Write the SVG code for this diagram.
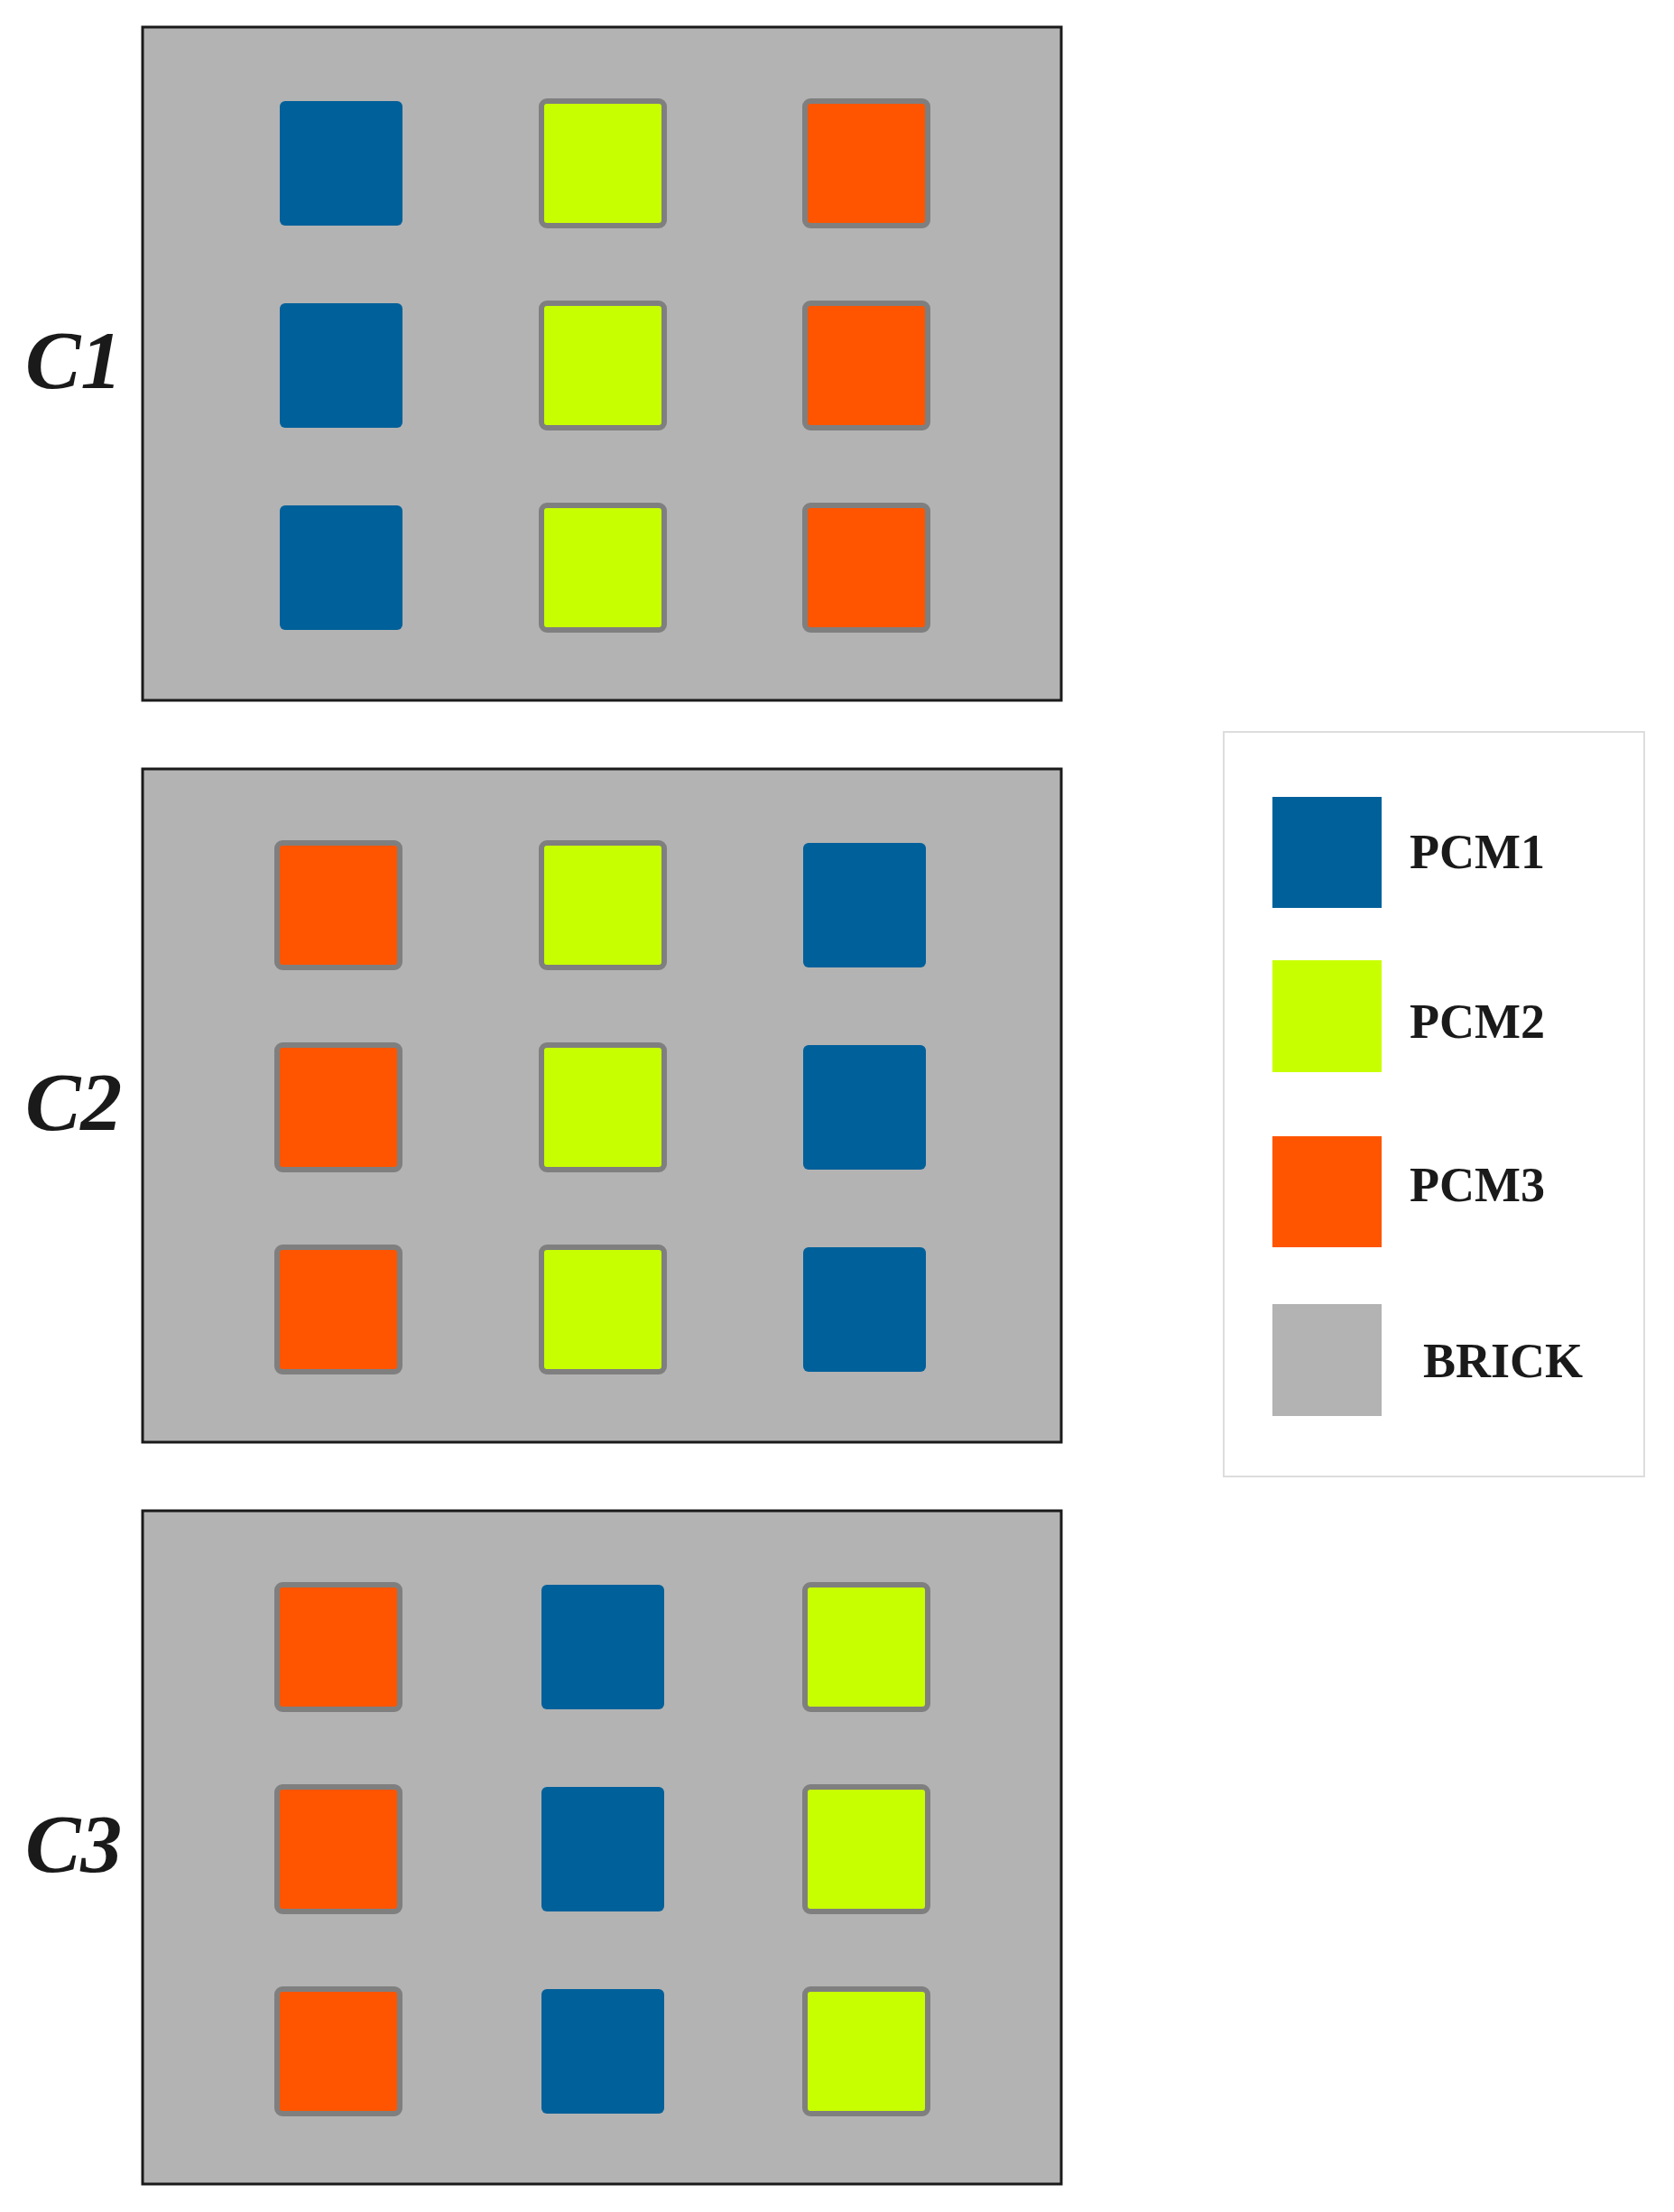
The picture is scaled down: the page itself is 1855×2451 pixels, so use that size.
<svg xmlns="http://www.w3.org/2000/svg" xmlns:xlink="http://www.w3.org/1999/xlink" width="1855" height="2451" viewBox="0 0 1855 2451">
<style>
.panel{fill:#b3b3b3;stroke:#1a1a1a;stroke-width:3}
.b{fill:#00609a}
.g{fill:#c8ff00;stroke:#7f7f7f;stroke-width:6}
.o{fill:#ff5500;stroke:#7f7f7f;stroke-width:6}
.lbl{font-family:"Liberation Serif",serif;font-weight:bold;font-style:italic;font-size:92px;fill:#1a1a1a}
.leg{font-family:"Liberation Serif",serif;font-weight:bold;font-size:54px;fill:#1a1a1a}
</style>
<defs>
<rect id="sq" width="136" height="138" rx="6"/>
</defs>
<rect width="1855" height="2451" fill="#fff"/>
<g id="C1">
<rect class="panel" x="158" y="30" width="1018" height="746"/>
<text class="lbl" x="28" y="430">C1</text>
<use href="#sq" class="b" x="310" y="112"/><use href="#sq" class="g" x="600" y="112"/><use href="#sq" class="o" x="892" y="112"/>
<use href="#sq" class="b" x="310" y="336"/><use href="#sq" class="g" x="600" y="336"/><use href="#sq" class="o" x="892" y="336"/>
<use href="#sq" class="b" x="310" y="560"/><use href="#sq" class="g" x="600" y="560"/><use href="#sq" class="o" x="892" y="560"/>
</g>
<g id="C2">
<rect class="panel" x="158" y="852" width="1018" height="746"/>
<text class="lbl" x="28" y="1252">C2</text>
<use href="#sq" class="o" x="307" y="934"/><use href="#sq" class="g" x="600" y="934"/><use href="#sq" class="b" x="890" y="934"/>
<use href="#sq" class="o" x="307" y="1158"/><use href="#sq" class="g" x="600" y="1158"/><use href="#sq" class="b" x="890" y="1158"/>
<use href="#sq" class="o" x="307" y="1382"/><use href="#sq" class="g" x="600" y="1382"/><use href="#sq" class="b" x="890" y="1382"/>
</g>
<g id="C3">
<rect class="panel" x="158" y="1674" width="1018" height="746"/>
<text class="lbl" x="28" y="2074">C3</text>
<use href="#sq" class="o" x="307" y="1756"/><use href="#sq" class="b" x="600" y="1756"/><use href="#sq" class="g" x="892" y="1756"/>
<use href="#sq" class="o" x="307" y="1980"/><use href="#sq" class="b" x="600" y="1980"/><use href="#sq" class="g" x="892" y="1980"/>
<use href="#sq" class="o" x="307" y="2204"/><use href="#sq" class="b" x="600" y="2204"/><use href="#sq" class="g" x="892" y="2204"/>
</g>
<g id="legend">
<rect x="1356" y="811" width="466" height="825" fill="#fff" stroke="#dddddd" stroke-width="2"/>
<rect x="1410" y="883" width="121" height="123" fill="#00609a"/>
<text class="leg" x="1562" y="962">PCM1</text>
<rect x="1410" y="1064" width="121" height="124" fill="#c8ff00"/>
<text class="leg" x="1562" y="1150">PCM2</text>
<rect x="1410" y="1259" width="121" height="123" fill="#ff5500"/>
<text class="leg" x="1562" y="1331">PCM3</text>
<rect x="1410" y="1445" width="121" height="124" fill="#b3b3b3"/>
<text class="leg" x="1577" y="1526">BRICK</text>
</g>
</svg>
